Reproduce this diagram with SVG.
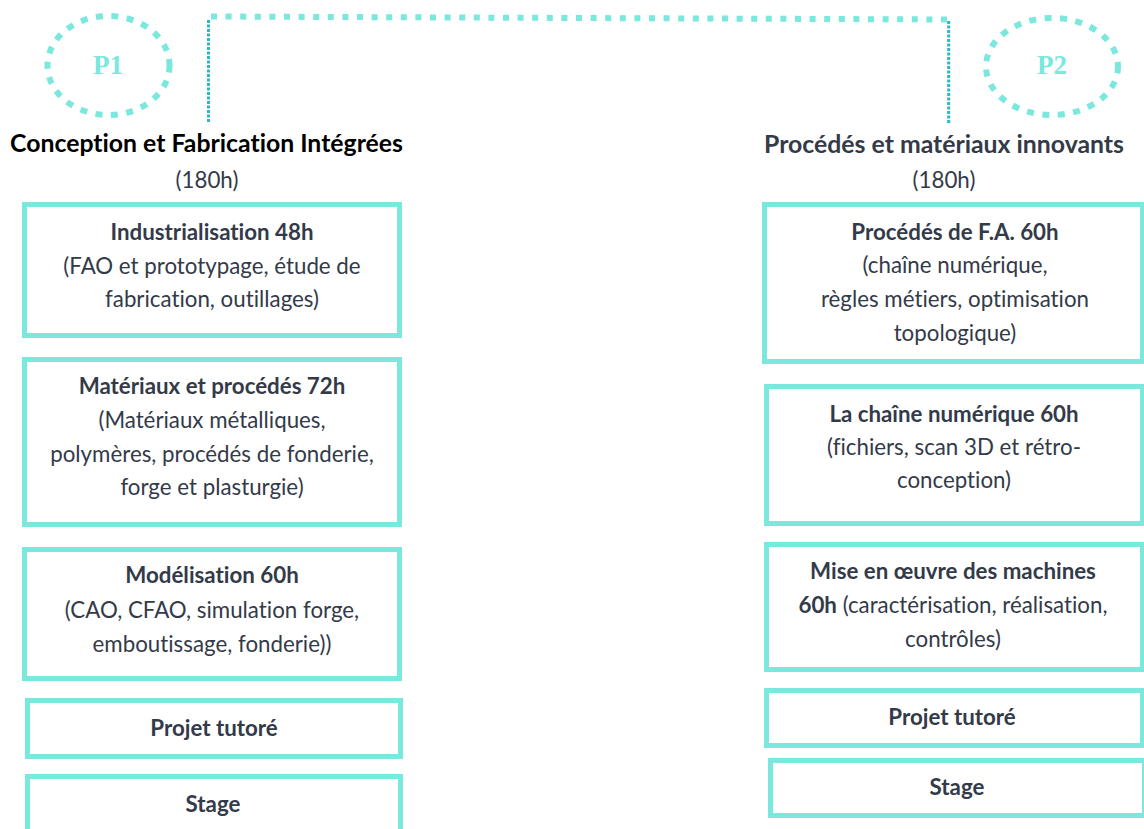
<svg xmlns="http://www.w3.org/2000/svg" width="1144" height="829" viewBox="0 0 1144 829">
<style>
.box{fill:#ffffff;stroke:#7ae8dc;stroke-width:5}
.ell{fill:none;stroke:#7ae8dc;stroke-width:6;stroke-dasharray:7 8.5}
.pl{font-family:"Liberation Serif","Times New Roman",serif;font-weight:bold;font-size:27px;fill:#7ae8dc;text-anchor:middle}
.hd{font-family:Lato,"Open Sans",sans-serif;font-weight:bold;font-size:24.8px;text-anchor:middle;font-variant-ligatures:none}
.t{font-family:Lato,"Open Sans",sans-serif;font-size:22.3px;fill:#333a49;text-anchor:middle;font-variant-ligatures:none}
.b{font-weight:bold}
.hz{fill:none;stroke:#7ae8dc;stroke-width:6;stroke-dasharray:6 8.6}
.vt{fill:none;stroke:#2ab8c6;stroke-width:3;stroke-dasharray:3 1.5}
</style>
<rect width="1144" height="829" fill="#ffffff"/>
<g id="connectors">
<path class="hz" d="M211,16.5 L949,19.5"/>
<path class="vt" d="M208.5,20 V122"/>
<path class="vt" d="M948.7,21 V123"/>
</g>
<g id="p1">
<ellipse class="ell" cx="108.5" cy="65.5" rx="61" ry="49.5"/>
<text class="pl" x="108" y="74">P1</text>
</g>
<g id="p2">
<ellipse class="ell" cx="1052" cy="66.5" rx="66" ry="48.5"/>
<text class="pl" x="1052" y="74">P2</text>
</g>
<g id="header1">
<text class="hd" x="206.5" y="152" fill="#000000">Conception et Fabrication Intégrées</text>
<text class="t" x="207" y="188">(180h)</text>
</g>
<g id="header2">
<text class="hd" x="944" y="153" fill="#333a48">Procédés et matériaux innovants</text>
<text class="t" x="944" y="188">(180h)</text>
</g>
<g id="industrialisation">
<rect class="box" x="24.5" y="204.5" width="375" height="131"/>
<text class="t b" x="212" y="240">Industrialisation 48h</text>
<text class="t" x="212" y="274">(FAO et prototypage, étude de</text>
<text class="t" x="212" y="307">fabrication, outillages)</text>
</g>
<g id="materiaux">
<rect class="box" x="24.5" y="359.5" width="375" height="165"/>
<text class="t b" x="212" y="394">Matériaux et procédés 72h</text>
<text class="t" x="212" y="428">(Matériaux métalliques,</text>
<text class="t" x="212" y="462">polymères, procédés de fonderie,</text>
<text class="t" x="212" y="495">forge et plasturgie)</text>
</g>
<g id="modelisation">
<rect class="box" x="24.5" y="549.5" width="375" height="129"/>
<text class="t b" x="212" y="583">Modélisation 60h</text>
<text class="t" x="212" y="618">(CAO, CFAO, simulation forge,</text>
<text class="t" x="212" y="652">emboutissage, fonderie))</text>
</g>
<g id="projet1">
<rect class="box" x="27.5" y="700.5" width="373" height="56"/>
<text class="t b" x="214" y="736">Projet tutoré</text>
</g>
<g id="stage1">
<rect class="box" x="27.5" y="776.5" width="373" height="70"/>
<text class="t b" x="213" y="812">Stage</text>
</g>
<g id="procedes-fa">
<rect class="box" x="764.5" y="204.5" width="378" height="157"/>
<text class="t b" x="955" y="240">Procédés de F.A. 60h</text>
<text class="t" x="955" y="273">(chaîne numérique,</text>
<text class="t" x="955" y="307">règles métiers, optimisation</text>
<text class="t" x="955" y="341">topologique)</text>
</g>
<g id="chaine-numerique">
<rect class="box" x="766.5" y="386.5" width="376" height="137"/>
<text class="t b" x="954" y="422">La chaîne numérique 60h</text>
<text class="t" x="954" y="455">(fichiers, scan 3D et rétro-</text>
<text class="t" x="954" y="488">conception)</text>
</g>
<g id="machines">
<rect class="box" x="766.5" y="544.5" width="376" height="125"/>
<text class="t b" x="953" y="579">Mise en œuvre des machines</text>
<text class="t" x="953" y="613"><tspan class="b">60h</tspan> (caractérisation, réalisation,</text>
<text class="t" x="953" y="647">contrôles)</text>
</g>
<g id="projet2">
<rect class="box" x="766.5" y="690.5" width="376" height="55"/>
<text class="t b" x="952" y="725">Projet tutoré</text>
</g>
<g id="stage2">
<rect class="box" x="770.5" y="760.5" width="374" height="55"/>
<text class="t b" x="957" y="795">Stage</text>
</g>
</svg>
